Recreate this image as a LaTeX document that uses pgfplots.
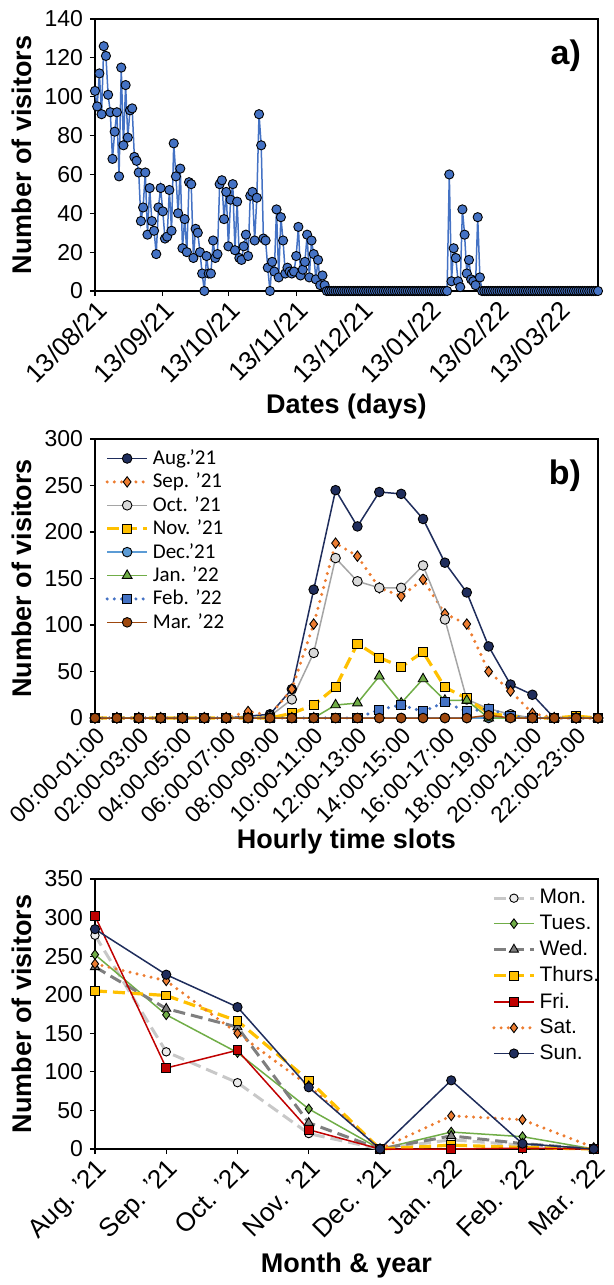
\documentclass[border=0pt]{standalone}
\usepackage{fontspec}
\setmainfont{Liberation Sans}
\newfontfamily\legfont{Carlito}
\usepackage{pgfplots}
\pgfplotsset{compat=1.18}

\definecolor{ptblue}{RGB}{68,114,196}
\definecolor{cnavy}{RGB}{31,45,92}
\definecolor{corange}{RGB}{237,125,49}
\definecolor{cgray}{RGB}{165,165,165}
\definecolor{clgray}{RGB}{217,217,217}
\definecolor{cyellow}{RGB}{255,192,0}
\definecolor{cltblue}{RGB}{91,155,213}
\definecolor{cgreen}{RGB}{112,173,71}
\definecolor{cbrown}{RGB}{158,72,14}
\definecolor{cred}{RGB}{192,0,0}
\definecolor{cmon}{RGB}{200,200,200}
\definecolor{cwed}{RGB}{127,127,127}

\pgfplotsset{
  panel/.style={
    scale only axis, width=251.5pt,
    axis line style={black, line width=0.6pt},
    tick style={black, line width=0.6pt},
    major tick length=2.5pt,
    tick align=outside, xtick pos=left, ytick pos=left,
    yticklabel style={font=\fontsize{11.5}{13}\selectfont},
    label style={font=\bfseries\fontsize{13.5}{16}\selectfont},
    /pgf/number format/assume math mode=true,
    clip=false,
    ylabel style={at={(axis description cs:-0.145,0.5)}, anchor=center},
    xlabel style={anchor=center},
    legend image code/.code={\draw[mark repeat=2,mark phase=2]
      plot coordinates {(0pt,0pt) (10pt,0pt) (20pt,0pt)};},
  },
  thin line/.style={line width=0.75pt},
  dotline/.style={line width=1.7pt, dash pattern=on 0pt off 3.6pt, line cap=round},
  dashline/.style={line width=1.6pt, dash pattern=on 6pt off 3pt},
  mk/.style={mark options={solid, draw=black, line width=0.45pt, fill=#1}},
}

\begin{document}
\begin{tikzpicture}
\useasboundingbox (-47.5pt,0pt) rectangle (259.5pt,-642.5pt);

% ---------- a) daily visitors
\begin{axis}[panel, at={(0pt,-145.5pt)}, anchor=south west, height=136pt,
  xmin=0, xmax=230, ymin=0, ymax=140, ytick={0,20,...,140},
  xtick={0,31,61,92,122,153,184,212},
  xticklabels={13/08/21,13/09/21,13/10/21,13/11/21,13/12/21,13/01/22,13/02/22,13/03/22},
  xticklabel style={rotate=45, anchor=north east, inner sep=1pt, font=\fontsize{13}{15}\selectfont},
  xlabel={Dates (days)}, ylabel={Number of visitors},
  xlabel style={at={(axis description cs:0.5,-0.426)}},
]
\addplot[color=ptblue, thin line, mark=*, mark size=2.3pt, mk=ptblue] coordinates {
(0,103) (1,95) (2,112) (3,91) (4,126) (5,121) (6,101) (7,92) (8,68) (9,82)
(10,92) (11,59) (12,115) (13,75) (14,106) (15,79) (16,93) (17,94) (18,69) (19,67)
(20,61) (21,36) (22,43) (23,61) (24,29) (25,53) (26,36) (27,31) (28,19) (29,43)
(30,53) (31,41) (32,27) (33,28) (34,52) (35,31) (36,76) (37,59) (38,40) (39,63)
(40,22) (41,37) (42,20) (43,56) (44,55) (45,17) (46,32) (47,30) (48,20) (49,9)
(50,0) (51,18) (52,9) (53,9) (54,26) (55,17) (56,19) (57,55) (58,57) (59,37)
(60,51) (61,23) (62,47) (63,55) (64,21) (65,46) (66,17) (67,16) (68,23) (69,29)
(70,18) (71,49) (72,51) (73,26) (74,48) (75,91) (76,75) (77,27) (78,26) (79,12)
(80,0) (81,15) (82,10) (83,42) (84,7) (85,38) (86,26) (87,9) (88,12) (89,10)
(90,9) (91,10) (92,18) (93,33) (94,8) (95,11) (96,15) (97,29) (98,7) (99,26)
(100,19) (101,6) (102,16) (103,3) (104,8) (105,3) (106,0) (107,0) (108,0) (109,0)
(110,0) (111,0) (112,0) (113,0) (114,0) (115,0) (116,0) (117,0) (118,0) (119,0)
(120,0) (121,0) (122,0) (123,0) (124,0) (125,0) (126,0) (127,0) (128,0) (129,0)
(130,0) (131,0) (132,0) (133,0) (134,0) (135,0) (136,0) (137,0) (138,0) (139,0)
(140,0) (141,0) (142,0) (143,0) (144,0) (145,0) (146,0) (147,0) (148,0) (149,0)
(150,0) (151,0) (152,0) (153,0) (154,0) (155,0) (156,0) (157,0) (158,0) (159,0)
(160,0) (161,0) (162,60) (163,5) (164,22) (165,17) (166,5) (167,2) (168,42) (169,29)
(170,9) (171,16) (172,6) (173,5) (174,3) (175,38) (176,7) (177,0) (178,0) (179,0)
(180,0) (181,0) (182,0) (183,0) (184,0) (185,0) (186,0) (187,0) (188,0) (189,0)
(190,0) (191,0) (192,0) (193,0) (194,0) (195,0) (196,0) (197,0) (198,0) (199,0)
(200,0) (201,0) (202,0) (203,0) (204,0) (205,0) (206,0) (207,0) (208,0) (209,0)
(210,0) (211,0) (212,0) (213,0) (214,0) (215,0) (216,0) (217,0) (218,0) (219,0)
(220,0) (221,0) (222,0) (223,0) (224,0) (225,0) (226,0) (227,0) (228,0) (229,0)
(230,0)};
\node[anchor=north east, font=\bfseries\fontsize{17}{17}\selectfont] at (rel axis cs:0.98,0.95) {a)};
\end{axis}

% ---------- b) hourly time slots
\begin{axis}[panel, at={(0pt,-359pt)}, anchor=south west, height=139.5pt,
  xmin=0, xmax=23, ymin=0, ymax=300, ytick={0,50,...,300},
  xtick={0,2,...,22},
  xticklabels={00:00-01:00,02:00-03:00,04:00-05:00,06:00-07:00,08:00-09:00,10:00-11:00,
    12:00-13:00,14:00-15:00,16:00-17:00,18:00-19:00,20:00-21:00,22:00-23:00},
  xticklabel style={rotate=45, anchor=north east, inner sep=1pt, font=\fontsize{11.5}{13}\selectfont},
  xlabel={Hourly time slots}, ylabel={Number of visitors},
  xlabel style={at={(axis description cs:0.5,-0.444)}},
  legend style={at={(axis description cs:0.016,0.985)}, anchor=north west,
    draw=none, fill=none, font=\legfont\fontsize{10.5}{12}\selectfont,
    row sep=-1.2pt, inner sep=1pt},
  legend cell align=left,
]
\addplot[color=cnavy, thin line, mark=*, mark size=2.4pt, mk=cnavy] coordinates {
(0,0) (1,0) (2,0) (3,0) (4,0) (5,0) (6,0) (7,2) (8,4) (9,31) (10,138) (11,245)
(12,206) (13,243) (14,241) (15,214) (16,167) (17,135) (18,77) (19,36) (20,25) (21,0) (22,0) (23,0)};
\addplot[color=corange, dotline, mark=diamond*, mark size=2.6pt, mk=corange] coordinates {
(0,0) (1,0) (2,0) (3,0) (4,0) (5,0) (6,0) (7,7) (8,3) (9,31) (10,101) (11,188)
(12,174) (13,140) (14,131) (15,149) (16,112) (17,101) (18,50) (19,29) (20,5) (21,0) (22,0) (23,0)};
\addplot[color=cgray, thin line, mark=*, mark size=2.4pt, mk=clgray] coordinates {
(0,0) (1,0) (2,0) (3,0) (4,0) (5,0) (6,0) (7,0) (8,2) (9,20) (10,70) (11,172)
(12,147) (13,140) (14,140) (15,164) (16,106) (17,20) (18,10) (19,4) (20,0) (21,0) (22,0) (23,0)};
\addplot[color=cyellow, dashline, mark=square*, mark size=2.3pt, mk=cyellow] coordinates {
(0,0) (1,0) (2,0) (3,0) (4,0) (5,0) (6,0) (7,0) (8,0) (9,5) (10,14) (11,33)
(12,80) (13,65) (14,55) (15,71) (16,33) (17,21) (18,5) (19,2) (20,0) (21,0) (22,2) (23,0)};
\addplot[color=cltblue, thin line, mark=*, mark size=2.4pt, mk=cltblue] coordinates {
(0,0) (1,0) (2,0) (3,0) (4,0) (5,0) (6,0) (7,0) (8,0) (9,0) (10,0) (11,0)
(12,0) (13,0) (14,0) (15,0) (16,0) (17,0) (18,0) (19,0) (20,0) (21,0) (22,0) (23,0)};
\addplot[color=cgreen, thin line, mark=triangle*, mark size=2.8pt, mk=cgreen] coordinates {
(0,0) (1,0) (2,0) (3,0) (4,0) (5,0) (6,0) (7,0) (8,0) (9,0) (10,0) (11,14)
(12,16) (13,45) (14,16) (15,42) (16,19) (17,19) (18,0) (19,0) (20,0) (21,0) (22,0) (23,0)};
\addplot[color=ptblue, dotline, mark=square*, mark size=2.3pt, mk=ptblue] coordinates {
(0,0) (1,0) (2,0) (3,0) (4,0) (5,0) (6,0) (7,0) (8,0) (9,0) (10,0) (11,0)
(12,0) (13,9) (14,14) (15,7) (16,17) (17,7) (18,10) (19,2) (20,0) (21,0) (22,0) (23,0)};
\addplot[color=cbrown, thin line, mark=*, mark size=2.4pt, mk=cbrown] coordinates {
(0,0) (1,0) (2,0) (3,0) (4,0) (5,0) (6,0) (7,0) (8,0) (9,0) (10,0) (11,0)
(12,0) (13,0) (14,0) (15,0) (16,0) (17,0) (18,3) (19,0) (20,0) (21,0) (22,0) (23,0)};
\legend{Aug.’21, Sep. ’21, Oct. ’21, Nov. ’21, Dec.’21, Jan. ’22, Feb. ’22, Mar. ’22}
\node[anchor=north east, font=\bfseries\fontsize{17}{17}\selectfont] at (rel axis cs:0.98,0.95) {b)};
\end{axis}

% ---------- c) month and weekday
\begin{axis}[panel, at={(0pt,-574.5pt)}, anchor=south west, height=135pt,
  xmin=0, xmax=7.06, ymin=0, ymax=350, ytick={0,50,...,350},
  xtick={0,...,7},
  xticklabels={Aug. ’21,Sep. ’21,Oct. ’21,Nov. ’21,Dec. ’21,Jan. ’22,Feb. ’22,Mar. ’22},
  xticklabel style={rotate=45, anchor=north east, inner sep=1pt, font=\fontsize{13}{15}\selectfont},
  xlabel={Month \& year}, ylabel={Number of visitors},
  xlabel style={at={(axis description cs:0.5,-0.43)}},
  legend style={at={(axis description cs:1.015,0.985)}, anchor=north east,
    draw=none, fill=none, font=\fontsize{10.5}{12}\selectfont,
    row sep=0pt, inner sep=1pt},
  legend cell align=left,
]
\addplot[color=cmon, dashline, line width=1.5pt, mark=*, mark size=2.1pt, mk={white!92!black}] coordinates {
(0,277) (1,126) (2,86) (3,20) (4,0) (5,12) (6,5) (7,0)};
\addplot[color=cgreen, thin line, mark=diamond*, mark size=2.4pt, mk=cgreen] coordinates {
(0,252) (1,174) (2,125) (3,52) (4,0) (5,22) (6,16) (7,0)};
\addplot[color=cwed, dashline, line width=1.5pt, mark=triangle*, mark size=2.6pt, mk=cwed] coordinates {
(0,236) (1,182) (2,158) (3,34) (4,0) (5,17) (6,7) (7,0)};
\addplot[color=cyellow, dashline, mark=square*, mark size=2.2pt, mk=cyellow] coordinates {
(0,205) (1,199) (2,166) (3,89) (4,0) (5,5) (6,2) (7,0)};
\addplot[color=cred, thin line, mark=square*, mark size=2.2pt, mk=cred] coordinates {
(0,302) (1,105) (2,128) (3,25) (4,0) (5,0) (6,1) (7,0)};
\addplot[color=corange, dotline, mark=diamond*, mark size=2.4pt, mk=corange] coordinates {
(0,240) (1,218) (2,150) (3,82) (4,0) (5,43) (6,38) (7,2)};
\addplot[color=cnavy, thin line, mark=*, mark size=2.3pt, mk=cnavy] coordinates {
(0,285) (1,226) (2,184) (3,80) (4,0) (5,89) (6,7) (7,0)};
\legend{Mon., Tues., Wed., Thurs., Fri., Sat., Sun.}
\end{axis}
\end{tikzpicture}
\end{document}
